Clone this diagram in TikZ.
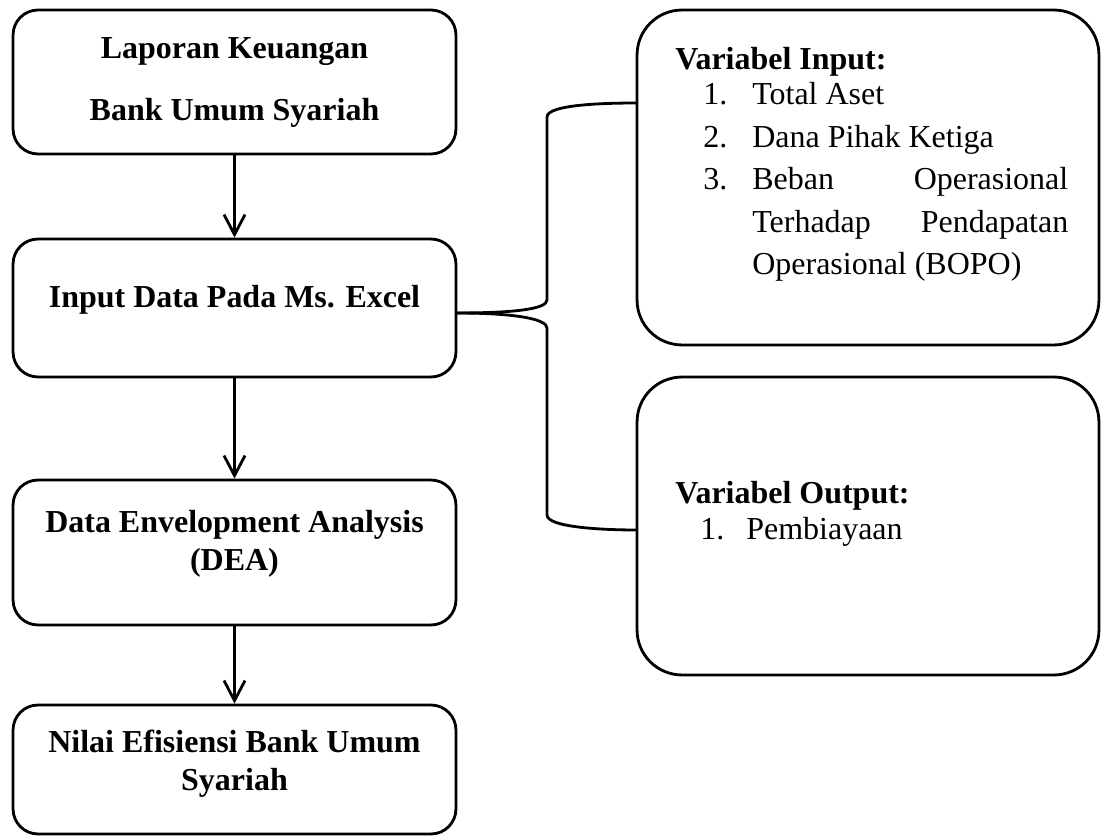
\documentclass[tikz,border=0pt]{standalone}
\usepackage{fontspec}
\setmainfont{Liberation Serif}
\usetikzlibrary{arrows.meta}

\begin{document}
\begin{tikzpicture}[x=0.02cm, y=-0.02cm,
	box/.style={draw=black, line width=1.6pt, rounded corners=0.5cm,
		minimum width=8.86cm, align=center,
		font=\fontsize{18.2pt}{0.76cm}\selectfont\bfseries},
	varbox/.style={draw=black, line width=1.6pt, rounded corners=0.9cm,
		minimum width=9.24cm},
	vartext/.style={anchor=base west, inner sep=0pt,
		font=\fontsize{18.2pt}{0.85cm}\selectfont},
	flow/.style={line width=1.6pt, -{Straight Barb[length=0.4cm, width=0.42cm]}},
	brace/.style={line width=1.6pt}]
	\useasboundingbox (0,0) rectangle (1102,837);

	% left column
	\node[box, minimum height=2.88cm] (lapkeu) at (234.5,82)
		{Laporan Keuangan\\[0.48cm]Bank Umum Syariah};
	\node[box, minimum height=2.76cm, text depth=0.48cm] (input) at (234.5,308)
		{Input Data Pada Ms. Excel};
	\node[box, minimum height=2.9cm, text depth=0.5cm] (dea) at (234.5,552.5)
		{Data Envelopment Analysis\\(DEA)};
	\node[box, minimum height=2.58cm, text depth=0.38cm] (nilai) at (234.5,769.5)
		{Nilai Efisiensi Bank Umum\\Syariah};
	\draw[flow] (lapkeu) -- (input);
	\draw[flow] (input) -- (dea);
	\draw[flow] (dea) -- (nilai);

	% right column
	\node[varbox, minimum height=6.7cm] (inbox) at (868,177.5) {};
	\node[varbox, minimum height=5.96cm] (outbox) at (868,526) {};
	\node[vartext] (intext) at (675,70) {\parbox[t]{9cm}{%
		\textbf{Variabel Input:}\\[-0.15cm]
		\hspace*{0.56cm}\makebox[0.98cm][l]{1.}Total Aset\\
		\hspace*{0.56cm}\makebox[0.98cm][l]{2.}Dana Pihak Ketiga\\
		\hspace*{0.56cm}\makebox[0.98cm][l]{3.}\makebox[6.32cm]{Beban\hfill Operasional}\\
		\hspace*{1.54cm}\makebox[6.32cm]{Terhadap\hfill Pendapatan}\\
		\hspace*{1.54cm}Operasional (BOPO)}};
	\node[vartext] (outtext) at (675,503) {\parbox[t]{9cm}{%
		\textbf{Variabel Output:}\\[-0.11cm]
		\hspace*{0.5cm}\makebox[0.92cm][l]{1.}Pembiayaan}};

	% brace
	\coordinate (tip) at (456,313);
	\coordinate (intop) at (637,103);
	\coordinate (outbot) at (637,530);
	\draw[brace] (tip) .. controls (515,313) and (547,309) .. (547,300)
		-- (547,117) .. controls (547,105) and (600,103) .. (intop);
	\draw[brace] (tip) .. controls (515,313) and (547,319) .. (547,328)
		-- (547,515) .. controls (547,527) and (600,530) .. (outbot);
\end{tikzpicture}
\end{document}
